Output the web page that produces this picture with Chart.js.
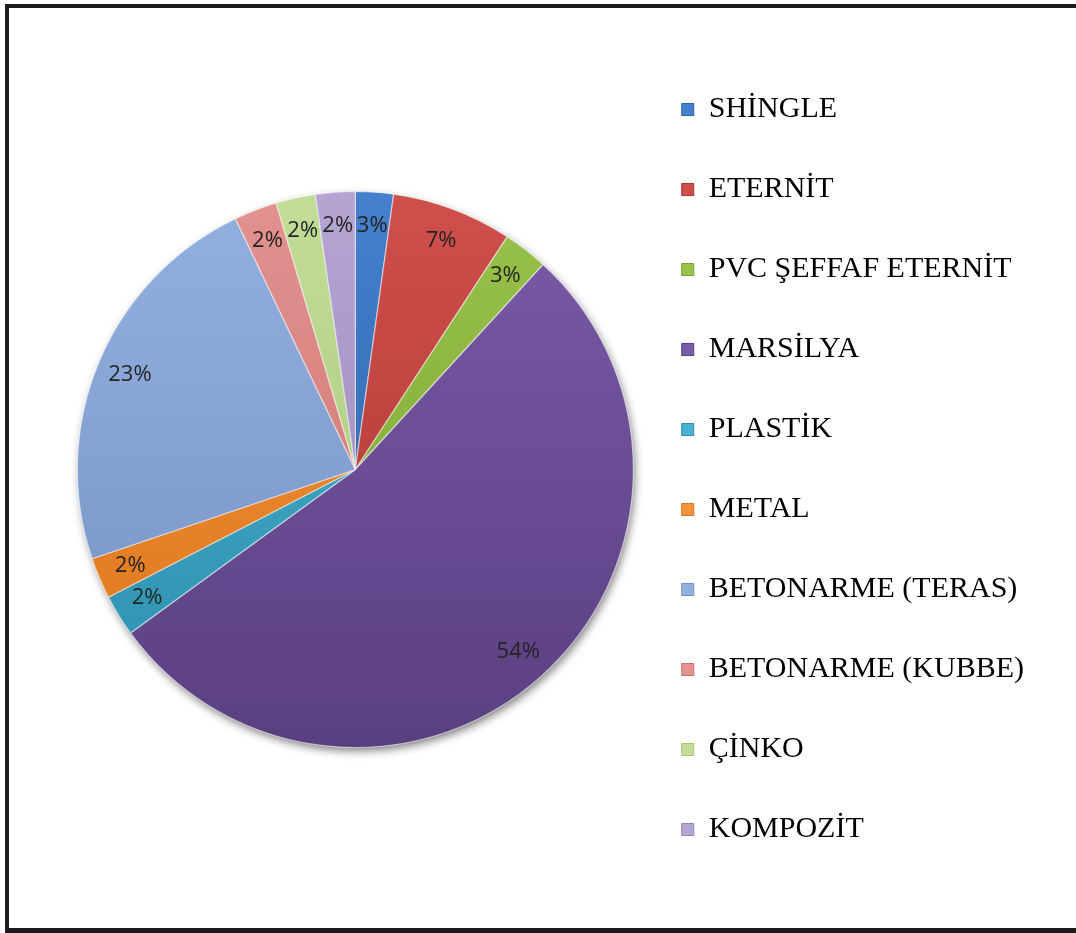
<!DOCTYPE html>
<html>
<head>
<meta charset="utf-8">
<script src="https://cdn.jsdelivr.net/npm/chart.js@4.4.1/dist/chart.umd.min.js"></script>
<style>
html, body { margin: 0; padding: 0; background: #fff; }
#wrap { position: relative; width: 1076px; height: 933px; overflow: hidden; }
#frame { position: absolute; left: 5px; top: 4px; width: 1100px; height: 929px;
         box-sizing: border-box; border-style: solid; border-color: #1c1c1c;
         border-width: 4px 0 5px 4px; }
#chart { position: absolute; left: 0; top: 0; }
</style>
</head>
<body>
<div id="wrap">
  <div id="frame"></div>
  <canvas id="chart" width="1076" height="933"></canvas>
</div>
<script>
const categories = ['SHİNGLE', 'ETERNİT', 'PVC ŞEFFAF ETERNİT', 'MARSİLYA', 'PLASTİK',
    'METAL', 'BETONARME (TERAS)', 'BETONARME (KUBBE)', 'ÇİNKO', 'KOMPOZİT'];
const shares = [2.2, 7.0, 2.6, 53.2, 2.4, 2.4, 23.1, 2.5, 2.3, 2.3];
const percentLabels = ['3%', '7%', '3%', '54%', '2%', '2%', '23%', '2%', '2%', '2%'];

const topColors = ['#4480cc', '#cf4f4b', '#98c24a', '#7a5ba8', '#48b2d0',
    '#f5923c', '#93b1e0', '#e3928f', '#c2dd98', '#b6a4d3'];
const bottomColors = ['#2c60a4', '#aa3633', '#7aa232', '#5a3f80', '#2b8fac',
    '#dc761c', '#7590c2', '#c97270', '#a5c475', '#9683b8'];

function sliceFill(context) {
    const chart = context.chart;
    const i = context.dataIndex;
    const area = chart.chartArea;
    if (!area) {
        return topColors[i];
    }
    const cy = (area.top + area.bottom) / 2;
    const g = chart.ctx.createLinearGradient(0, cy - 278, 0, cy + 278);
    g.addColorStop(0, topColors[i]);
    g.addColorStop(1, bottomColors[i]);
    return g;
}

// soft shadow under the whole pie
const pieShadow = {
    id: 'pieShadow',
    beforeDatasetsDraw(chart) {
        const arc = chart.getDatasetMeta(0).data[0];
        if (!arc) return;
        const ctx = chart.ctx;
        ctx.save();
        ctx.shadowColor = 'rgba(0,0,0,0.55)';
        ctx.shadowBlur = 10;
        ctx.shadowOffsetX = 2;
        ctx.shadowOffsetY = 4;
        ctx.fillStyle = '#6a5a8a';
        ctx.beginPath();
        ctx.arc(arc.x, arc.y, arc.outerRadius - 1, 0, Math.PI * 2);
        ctx.fill();
        ctx.restore();
    }
};

const pctLabels = {
    id: 'pctLabels',
    afterDatasetsDraw(chart) {
        const ctx = chart.ctx;
        const meta = chart.getDatasetMeta(0);
        ctx.save();
        ctx.font = '22px "Open Sans"';
        ctx.fillStyle = '#242424';
        ctx.textAlign = 'center';
        ctx.textBaseline = 'middle';
        meta.data.forEach((arc, i) => {
            const p = arc.getProps(['x', 'y', 'startAngle', 'endAngle', 'outerRadius'], true);
            const mid = (p.startAngle + p.endAngle) / 2;
            const r = p.outerRadius * 0.88;
            ctx.fillText(percentLabels[i], p.x + Math.cos(mid) * r, p.y + Math.sin(mid) * r);
        });
        ctx.restore();
    }
};

new Chart(document.getElementById('chart'), {
    type: 'pie',
    data: {
        labels: categories,
        datasets: [{
            data: shares,
            backgroundColor: sliceFill,
            borderColor: 'rgba(255,255,255,0.55)',
            borderWidth: 1.2,
            radius: 278
        }]
    },
    options: {
        responsive: false,
        animation: false,
        layout: { padding: { left: 79, right: 42, top: 8, bottom: 2 } },
        plugins: {
            tooltip: { enabled: false },
            legend: {
                position: 'right',
                labels: {
                    font: { family: '"Liberation Serif", "Times New Roman", serif', size: 30 },
                    color: '#1a1a1a',
                    boxWidth: 12,
                    boxHeight: 12,
                    padding: 50,
                    generateLabels(chart) {
                        return categories.map((c, i) => ({
                            text: c,
                            fillStyle: topColors[i],
                            strokeStyle: bottomColors[i],
                            lineWidth: 1,
                            hidden: false,
                            index: i
                        }));
                    }
                }
            }
        }
    },
    plugins: [pieShadow, pctLabels]
});
</script>
</body>
</html>
